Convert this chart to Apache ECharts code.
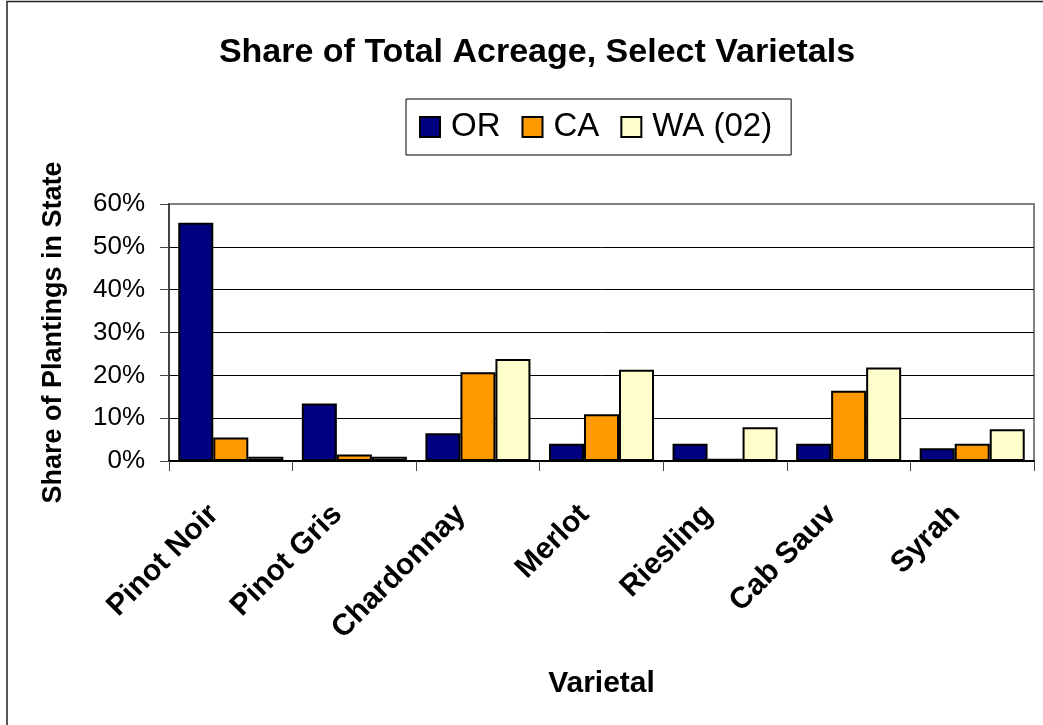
<!DOCTYPE html>
<html lang="en">
<head>
    <meta charset="UTF-8">
    <title>Share of Total Acreage, Select Varietals</title>
    <script src="https://cdn.jsdelivr.net/npm/echarts@6/dist/echarts.min.js"></script>
    <style>
        html, body {margin: 0; padding: 0; background: #fff;}
        #main {width: 1043px; height: 725px;}
    </style>
</head>
<body>
<div id="main"></div>
<script type="text/javascript">
    // varietals on the x axis
    var varietals = ['Pinot Noir', 'Pinot Gris', 'Chardonnay', 'Merlot', 'Riesling', 'Cab Sauv', 'Syrah'];
    // share of plantings per state
    var orShare = [0.556, 0.134, 0.065, 0.040, 0.040, 0.040, 0.030];
    var caShare = [0.055, 0.015, 0.207, 0.109, 0.005, 0.164, 0.040];
    var waShare = [0.010, 0.010, 0.238, 0.213, 0.079, 0.218, 0.074];
    var seriesNames = ['OR', 'CA', 'WA (02)'];
    var seriesColors = ['#000080', '#ff9900', '#ffffcc'];

    var font = '"Liberation Sans", Arial, sans-serif';

    var myChart = echarts.init(document.getElementById('main'));

    function bar(name, data, color) {
        return {
            name: name,
            type: 'bar',
            data: data,
            barGap: '0%',
            barCategoryGap: '15%',
            itemStyle: {color: color, borderColor: '#000', borderWidth: 2},
            emphasis: {disabled: true}
        };
    }

    var option = {
        animation: false,
        backgroundColor: '#fff',
        textStyle: {fontFamily: font},
        title: {
            text: 'Share of Total Acreage, Select Varietals',
            left: 532,
            textAlign: 'center',
            top: 31,
            textStyle: {fontFamily: font, fontSize: 34, fontWeight: 'bold', color: '#000'}
        },
        legend: {
            data: seriesNames,
            left: 406,
            top: 99,
            orient: 'horizontal',
            icon: 'rect',
            itemWidth: 20,
            itemHeight: 20,
            itemGap: 21,
            padding: [9, 19, 9, 13],
            backgroundColor: '#fff',
            borderColor: '#000',
            borderWidth: 1,
            textStyle: {fontFamily: font, fontSize: 33, color: '#000', lineHeight: 38, padding: [0, 0, 0, 6]}
        },
        graphic: [{
            type: 'rect',
            shape: {x: 7, y: 1.5, width: 1200, height: 900},
            style: {fill: 'none', stroke: '#222', lineWidth: 1.5},
            silent: true
        }],
        grid: {
            left: 169,
            right: 9,
            top: 204,
            bottom: 264,
            show: true,
            borderColor: '#808080',
            borderWidth: 2
        },
        xAxis: {
            type: 'category',
            data: varietals,
            name: 'Varietal',
            nameLocation: 'middle',
            nameGap: 208,
            nameTextStyle: {fontFamily: font, fontSize: 30, fontWeight: 'bold', color: '#000'},
            axisLine: {lineStyle: {color: '#000', width: 2}},
            axisTick: {show: true, length: 10, lineStyle: {color: '#444'}},
            axisLabel: {
                rotate: 45,
                margin: 32,
                padding: [0, 24, 0, 0],
                fontFamily: font,
                fontSize: 30,
                fontWeight: 'bold',
                color: '#000'
            }
        },
        yAxis: {
            type: 'value',
            min: 0,
            max: 0.6,
            interval: 0.1,
            name: 'Share of Plantings in State',
            nameLocation: 'middle',
            nameRotate: 90,
            nameGap: 102,
            nameTextStyle: {fontFamily: font, fontSize: 27, fontWeight: 'bold', color: '#000'},
            axisLine: {show: true, lineStyle: {color: '#444', width: 2}},
            axisTick: {show: true, length: 9, lineStyle: {color: '#444'}},
            axisLabel: {
                margin: 24,
                fontFamily: font,
                fontSize: 26,
                color: '#000',
                formatter: function (v) {
                    return Math.round(v * 100) + '%';
                }
            },
            splitLine: {
                lineStyle: {
                    color: ['#000', '#000', '#000', '#000', '#000', '#000', '#808080'],
                    width: 1
                }
            }
        },
        series: [
            bar(seriesNames[0], orShare, seriesColors[0]),
            bar(seriesNames[1], caShare, seriesColors[1]),
            bar(seriesNames[2], waShare, seriesColors[2])
        ]
    };
    myChart.setOption(option);
</script>
</body>
</html>
